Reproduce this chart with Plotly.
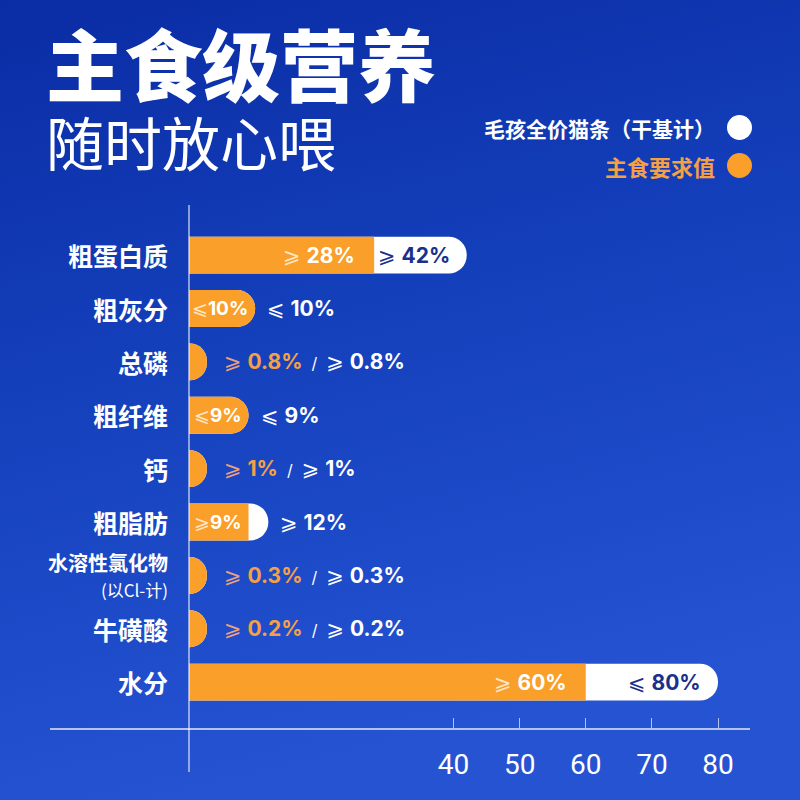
import base64
import plotly.graph_objects as go

# ---------------- data ----------------
categories = ["粗蛋白质", "粗灰分", "总磷", "粗纤维", "钙", "粗脂肪", "水溶性氯化物", "牛磺酸", "水分"]
req_values = [28, 10, 0.8, 9, 1, 9, 0.3, 0.2, 60]          # 主食要求值
req_ops = ["⩾", "⩽", "⩾", "⩽", "⩾", "⩾", "⩾", "⩾", "⩾"]
prod_values = [42, 10, 0.8, 9, 1, 12, 0.3, 0.2, 80]        # 毛孩全价猫条（干基计）
prod_ops = ["⩾", "⩽", "⩾", "⩽", "⩾", "⩾", "⩾", "⩾", "⩽"]
tick_values = [40, 50, 60, 70, 80]
label_names = {"水溶性氯化物": "<b>水溶性氯化物</b><br><span style='font-size:17px'>(以Cl-计)</span>"}

title_main = "主食级营养"
title_sub = "随时放心喂"
legend_prod = "毛孩全价猫条（干基计）"
legend_req = "主食要求值"

# ---------------- style ----------------
W, H = 800, 800
ML, MR, MT, MB = 50, 50, 205, 72
PW, PH = W - ML - MR, H - MT - MB
ORANGE = "#f99f2a"
ORANGE_TXT = "#f5a045"
NAVY = "#1b2f8c"
MIN_LEN = 2.7          # minimum drawn length so tiny values show as a rounded cap
CJK = "Noto Sans CJK SC"
NUM = "Inter, DejaVu Sans"


def px(x):
    return (x - ML) / PW


def py(y):
    return (H - MB - y) / PH


req_draw = [max(v, MIN_LEN) for v in req_values]
prod_draw = [max(v, MIN_LEN) for v in prod_values]

fig = go.Figure()
fig.add_trace(go.Bar(
    y=categories, x=prod_draw, orientation="h", width=0.69,
    marker=dict(color="white", line=dict(width=0)),
    name=legend_prod, customdata=prod_values,
    hovertemplate="%{y}: %{customdata}%<extra></extra>",
))
fig.add_trace(go.Bar(
    y=categories, x=req_draw, orientation="h", width=0.69,
    marker=dict(color=ORANGE, line=dict(width=0)),
    name=legend_req, customdata=req_values,
    hovertemplate="%{y}: %{customdata}%<extra></extra>",
))

ann = []
# category labels
for c in categories:
    ann.append(dict(x=0, y=c, xref="x", yref="y", xanchor="right", yanchor="middle",
                    xshift=-19, showarrow=False, align="right",
                    text=label_names.get(c, "<b>%s</b>" % c),
                    font=dict(family=CJK, size=25 if c not in label_names else 20, color="white")))


def fmt(v):
    return ("%g" % v) + "%"


for c, rv, ro, pv, po, rd, pd in zip(categories, req_values, req_ops, prod_values, prod_ops, req_draw, prod_draw):
    if rv < 5:
        # tiny bars: combined label outside
        txt = ("<span style='color:#eaa07e'>%s </span><span style='color:%s'><b>%s</b></span>"
               "<span style='color:white;font-size:16px'>  /  </span>"
               "<span style='color:white'>%s <b>%s</b></span>") % (ro, ORANGE_TXT, fmt(rv), po, fmt(pv))
        ann.append(dict(x=max(rd, pd), y=c, xref="x", yref="y", xanchor="left", yanchor="middle",
                        xshift=15, showarrow=False, text=txt,
                        font=dict(family=NUM, size=21, color="white")))
        continue
    # orange inner label
    small = rv < 20
    ann.append(dict(x=rd, y=c, xref="x", yref="y", xanchor="right", yanchor="middle",
                    xshift=-5 if small else -17, showarrow=False,
                    text="<span style='color:#ffe6c6'>%s</span><b>%s</b>" % (ro + ("" if small else " "), fmt(rv)),
                    font=dict(family=NUM, size=19 if small else 21, color="white")))
    if pv - rv >= 10:
        ann.append(dict(x=pd, y=c, xref="x", yref="y", xanchor="right", yanchor="middle",
                        xshift=-15, showarrow=False,
                        text="%s <b>%s</b>" % (po, fmt(pv)),
                        font=dict(family=NUM, size=21, color=NAVY)))
    else:
        ann.append(dict(x=max(rd, pd), y=c, xref="x", yref="y", xanchor="left", yanchor="middle",
                        xshift=10, showarrow=False,
                        text="%s <b>%s</b>" % (po, fmt(pv)),
                        font=dict(family=NUM, size=21, color="white")))

# title block (one annotation, two lines)
title_txt = ("<span style='font-size:78px;font-weight:900'>%s</span><br>"
             "<span style='font-size:58px;font-weight:400'>%s</span>") % (title_main, title_sub)
ann.append(dict(x=px(44), y=py(94), xref="paper", yref="paper", xanchor="left", yanchor="middle",
                showarrow=False, align="left", text=title_txt,
                font=dict(family=CJK, size=54, color="white")))
# legend
ann.append(dict(x=px(717), y=py(128), xref="paper", yref="paper", xanchor="right", yanchor="middle",
                showarrow=False, text="<b>%s</b>" % legend_prod,
                font=dict(family=CJK, size=21, color="white")))
ann.append(dict(x=px(717), y=py(166), xref="paper", yref="paper", xanchor="right", yanchor="middle",
                showarrow=False, text="<b>%s</b>" % legend_req,
                font=dict(family=CJK, size=22, color=ORANGE_TXT)))

shapes = [
    dict(type="circle", xref="paper", yref="paper", x0=px(727), x1=px(752), y0=py(140), y1=py(115),
         fillcolor="white", line=dict(width=0)),
    dict(type="circle", xref="paper", yref="paper", x0=px(727), x1=px(752), y0=py(178), y1=py(153),
         fillcolor=ORANGE, line=dict(width=0)),
    dict(type="line", xref="x", yref="paper", x0=0, x1=0, y0=py(772), y1=1,
         line=dict(color="rgba(255,255,255,0.85)", width=1.2), layer="above"),
]

svg = ("<svg xmlns='http://www.w3.org/2000/svg' width='800' height='800'>"
       "<defs><linearGradient id='g' x1='0' y1='0' x2='0.25' y2='1'>"
       "<stop offset='0' stop-color='#0a2ca4'/><stop offset='0.5' stop-color='#1541bd'/>"
       "<stop offset='1' stop-color='#2553d2'/></linearGradient></defs>"
       "<rect width='800' height='800' fill='url(#g)'/></svg>")
src = "data:image/svg+xml;base64," + base64.b64encode(svg.encode()).decode()

x0_units = 139 / 6.6125
fig.update_layout(
    width=W, height=H, margin=dict(l=ML, r=MR, t=MT, b=MB),
    paper_bgcolor="#1540bb", plot_bgcolor="rgba(0,0,0,0)",
    barmode="overlay", barcornerradius=18, showlegend=False,
    annotations=ann, shapes=shapes,
    images=[dict(source=src, xref="paper", yref="paper", x=-ML / PW, y=1 + MT / PH,
                 sizex=W / PW, sizey=H / PH, xanchor="left", yanchor="top",
                 sizing="stretch", layer="below")],
    xaxis=dict(range=[-x0_units, x0_units * 561 / 139], showgrid=False, zeroline=False,
               showline=True, linecolor="rgba(205,215,245,0.85)", linewidth=1.5,
               ticks="inside", ticklen=10, tickwidth=1.2, tickcolor="rgba(205,215,245,0.85)",
               tickvals=tick_values, ticklabelstandoff=11,
               tickfont=dict(family="Roboto", size=28, color="white"), fixedrange=True),
    yaxis=dict(type="category", categoryorder="array", categoryarray=categories,
               range=[8.86, -0.94], showgrid=False, zeroline=False, showticklabels=False,
               showline=False, fixedrange=True),
)

fig.write_html("out.html")
